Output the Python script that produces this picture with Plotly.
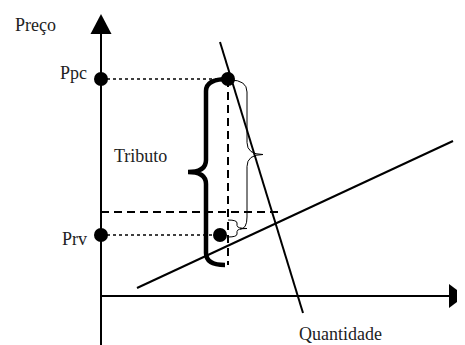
import plotly.graph_objects as go

# Diagram values (quantity on x, price on y; origin where the axes cross)
demand_q = [119, 202]
demand_p = [254, -17]
supply_q = [36, 352]
supply_p = [8, 155]

p_pc = 217          # preço pago pelo consumidor
p_rv = 61           # preço recebido pelo vendedor
p_ref = 84          # dashed reference price
q_tax = 127         # quantity traded with the tax
q_rv_dot = 119
q_ref_end = 179
p_dash_bottom = 31

price_labels = ["Ppc", "Prv"]

_INK = "black"
_FONT = "Liberation Serif, Times New Roman, serif"


def brace_path(x_end_top, x_end_bot, x_spine, x_tip, y_top, y_bot, r):
    """Curly brace as an SVG path in data coordinates."""
    ym = (y_top + y_bot) / 2
    s = 1 if y_top > y_bot else -1
    return (
        f"M {x_end_top},{y_top} Q {x_spine},{y_top} {x_spine},{y_top - s * r} "
        f"L {x_spine},{ym + s * r} Q {x_spine},{ym} {x_tip},{ym} "
        f"Q {x_spine},{ym} {x_spine},{ym - s * r} "
        f"L {x_spine},{y_bot + s * r} Q {x_spine},{y_bot} {x_end_bot},{y_bot}"
    )


fig = go.Figure()

# Axes (drawn as lines so they can cross and carry arrowheads)
fig.add_trace(go.Scatter(x=[0, 0], y=[-57, 265], mode="lines",
                         line=dict(color=_INK, width=2), hoverinfo="skip"))
fig.add_trace(go.Scatter(x=[0, 350], y=[0, 0], mode="lines",
                         line=dict(color=_INK, width=2), hoverinfo="skip"))

# Demand and supply
fig.add_trace(go.Scatter(x=demand_q, y=demand_p, mode="lines",
                         line=dict(color=_INK, width=2), hoverinfo="skip"))
fig.add_trace(go.Scatter(x=supply_q, y=supply_p, mode="lines",
                         line=dict(color=_INK, width=2), hoverinfo="skip"))

# Dotted price guides
fig.add_trace(go.Scatter(x=[0, q_tax], y=[p_pc, p_pc], mode="lines",
                         line=dict(color=_INK, width=1.6, dash="dot"), hoverinfo="skip"))
fig.add_trace(go.Scatter(x=[0, q_rv_dot], y=[p_rv, p_rv], mode="lines",
                         line=dict(color=_INK, width=1.6, dash="dot"), hoverinfo="skip"))

# Dashed guides
fig.add_trace(go.Scatter(x=[0, q_ref_end], y=[p_ref, p_ref], mode="lines",
                         line=dict(color=_INK, width=2, dash="8px,5px"), hoverinfo="skip"))
fig.add_trace(go.Scatter(x=[q_tax, q_tax], y=[p_pc, p_dash_bottom], mode="lines",
                         line=dict(color=_INK, width=2, dash="8px,5px"), hoverinfo="skip"))

# Points
fig.add_trace(go.Scatter(x=[0, q_tax, 0, q_rv_dot], y=[p_pc, p_pc, p_rv, p_rv],
                         mode="markers", marker=dict(color=_INK, size=14),
                         hoverinfo="skip"))

shapes = [
    # arrowheads
    dict(type="path", xref="x", yref="y", path="M -10.5,262 L 10.5,262 L 0,282 Z",
         fillcolor=_INK, line=dict(width=0)),
    dict(type="path", xref="x", yref="y", path="M 348,12 L 348,-12 L 364,0 Z",
         fillcolor=_INK, line=dict(width=0)),
    # thick brace (tributo)
    dict(type="path", xref="x", yref="y",
         path=brace_path(q_tax, q_tax - 3, 105, 87, p_pc, p_dash_bottom, 12),
         line=dict(color=_INK, width=4.5)),
    # thin brace
    dict(type="path", xref="x", yref="y",
         path=brace_path(q_tax + 2, q_tax + 12, 146, 162, p_pc - 1, p_rv + 6, 12),
         line=dict(color=_INK, width=1)),
    # small brace
    dict(type="path", xref="x", yref="y",
         path=brace_path(q_tax, q_tax, 136, 146, p_ref - 8, p_rv - 2, 3),
         line=dict(color=_INK, width=1)),
]

annotations = [
    dict(x=-88, y=271, text="Preço", xanchor="left"),
    dict(x=-12, y=223, text=price_labels[0], xanchor="right"),
    dict(x=-12, y=57, text=price_labels[1], xanchor="right"),
    dict(x=11, y=140, text="Tributo", xanchor="left"),
    dict(x=239, y=-38, text="Quantidade", xanchor="center"),
]
for a in annotations:
    a.update(xref="x", yref="y", showarrow=False, yanchor="middle",
             font=dict(family=_FONT, size=18, color="#222"))

# The page adds an 8px body margin, so the ranges are shifted to compensate.
fig.update_xaxes(visible=False, range=[-93, 372])
fig.update_yaxes(visible=False, range=[-57, 288])
fig.update_layout(
    width=465, height=345,
    margin=dict(l=0, r=0, t=0, b=0),
    plot_bgcolor="white", paper_bgcolor="white",
    showlegend=False,
    shapes=shapes,
    annotations=annotations,
)

fig.write_html("out.html")
